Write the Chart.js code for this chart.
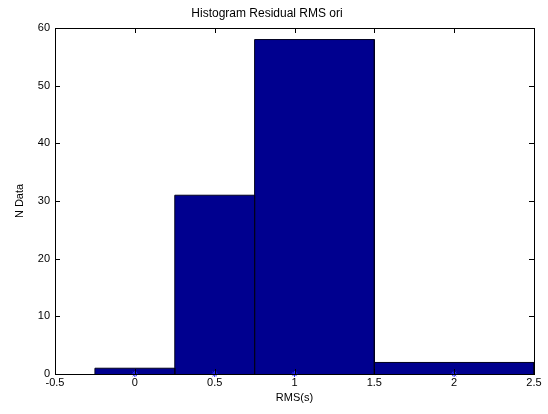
<!DOCTYPE html>
<html>
<head>
<meta charset="utf-8">
<script src="https://cdn.jsdelivr.net/npm/chart.js@4/dist/chart.umd.min.js"></script>
<style>
html,body{margin:0;padding:0;background:#fff;}
#wrap{width:548px;height:414px;}
</style>
</head>
<body>
<div id="wrap"><canvas id="c" width="548" height="414"></canvas></div>
<script>
const binEdges = [-0.25, 0.25, 0.75, 1.5, 2.5];
const counts = [1, 31, 58, 2];
const binCenters = [0, 0.5, 1, 2];
const xTicks = [-0.5, 0, 0.5, 1, 1.5, 2, 2.5];
const yTicks = [0, 10, 20, 30, 40, 50, 60];

const FONT = {family: '"Liberation Sans", Arial, Helvetica, sans-serif', size: 11};

const datasets = counts.map((c, i) => ({
  type: 'line',
  order: 1,
  data: [
    {x: binEdges[i], y: 0},
    {x: binEdges[i], y: c},
    {x: binEdges[i + 1], y: c},
    {x: binEdges[i + 1], y: 0}
  ],
  fill: 'origin',
  backgroundColor: 'rgb(0,0,143)',
  borderColor: 'rgb(0,0,30)',
  borderWidth: 1,
  pointRadius: 0,
  tension: 0
}));
datasets.push({
  type: 'scatter',
  order: 0,
  clip: false,
  data: binCenters.map(x => ({x: x, y: 0})),
  pointStyle: 'star',
  pointRadius: 3,
  borderColor: 'rgb(40,40,255)',
  backgroundColor: 'rgb(40,40,255)',
  borderWidth: 1
});

const boxPlugin = {
  id: 'box',
  afterDraw(chart) {
    const {ctx, chartArea: a, scales} = chart;
    ctx.save();
    ctx.strokeStyle = '#000';
    ctx.lineWidth = 1;
    ctx.strokeRect(Math.round(a.left) + 0.5, Math.round(a.top) + 0.5,
                   Math.round(a.right - a.left), Math.round(a.bottom - a.top));
    const L = 5;
    ctx.beginPath();
    xTicks.forEach(v => {
      const px = Math.round(scales.x.getPixelForValue(v)) + 0.5;
      ctx.moveTo(px, a.bottom); ctx.lineTo(px, a.bottom - L);
      ctx.moveTo(px, a.top); ctx.lineTo(px, a.top + L);
    });
    yTicks.forEach(v => {
      const py = Math.round(scales.y.getPixelForValue(v)) + 0.5;
      ctx.moveTo(a.left, py); ctx.lineTo(a.left + L, py);
      ctx.moveTo(a.right, py); ctx.lineTo(a.right - L, py);
    });
    ctx.stroke();
    ctx.restore();
  }
};

new Chart(document.getElementById('c'), {
  data: {datasets},
  options: {
    responsive: false,
    animation: false,
    layout: {padding: {top: 0, left: 0, right: 14, bottom: 0}},
    plugins: {
      legend: {display: false},
      tooltip: {enabled: false},
      title: {
        display: true,
        text: 'Histogram Residual RMS ori',
        color: '#000',
        font: {family: FONT.family, size: 12, weight: 'normal'},
        padding: {top: 6, bottom: 7.6}
      }
    },
    scales: {
      x: {
        type: 'linear',
        min: -0.5, max: 2.5,
        afterBuildTicks(s) { s.ticks = xTicks.map(v => ({value: v})); },
        afterFit(s) { s.height = 40; },
        grid: {display: false, drawTicks: false},
        border: {display: false},
        ticks: {color: '#000', font: FONT, padding: 2, maxRotation: 0,
                callback: v => String(v)},
        title: {display: true, text: 'RMS(s)', color: '#000', font: FONT, padding: {top: 4, bottom: 9}}
      },
      y: {
        type: 'linear',
        min: 0, max: 60,
        afterBuildTicks(s) { s.ticks = yTicks.map(v => ({value: v})); },
        afterFit(s) { s.width = 55; },
        grid: {display: false, drawTicks: false},
        border: {display: false},
        ticks: {color: '#000', font: FONT, padding: 5},
        title: {display: true, text: 'N Data', color: '#000', font: FONT, padding: {top: 13, bottom: 4}}
      }
    }
  },
  plugins: [boxPlugin]
});
</script>
</body>
</html>
